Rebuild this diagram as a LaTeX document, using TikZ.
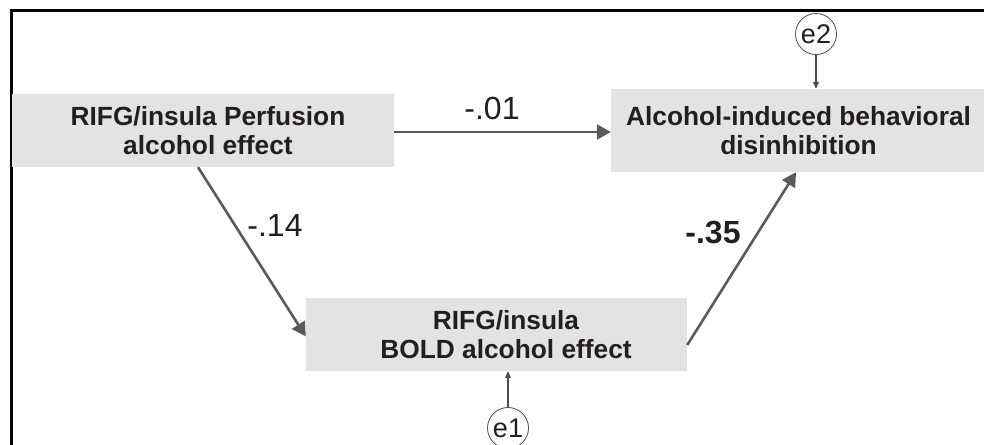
\documentclass[tikz,border=0pt]{standalone}
\usepackage{fontspec}
\setmainfont{Liberation Sans}
\usetikzlibrary{arrows.meta}
\definecolor{boxgray}{HTML}{E3E3E3}
\definecolor{arrowgray}{HTML}{5A5A5A}
\definecolor{txt}{HTML}{231F20}
\begin{document}
\begin{tikzpicture}[x=1pt,y=-1pt,
  varbox/.style={fill=boxgray,draw=none,inner sep=0pt,align=center,text=txt,
    font=\fontsize{26.3}{28.5}\selectfont\bfseries},
  path/.style={draw=arrowgray,line width=2.6pt,-{Triangle[length=14pt,width=15pt]}},
  errc/.style={circle,draw=txt!80,line width=0.8pt,minimum size=41pt,inner sep=0pt,
    text=txt,font=\fontsize{27}{27}\selectfont},
  errarrow/.style={draw=txt!80,line width=1.1pt,-{Triangle[length=7pt,width=6pt]}},
  coef/.style={text=txt,font=\fontsize{32}{32}\selectfont},
  coefb/.style={text=txt,font=\fontsize{32}{32}\selectfont\bfseries}]
\useasboundingbox (0,0) rectangle (984,444);
\clip (0,0) rectangle (984,444);
\draw[line width=3pt,black] (11,470) -- (11,11) -- (1000,11);
\node[varbox,minimum width=382pt,minimum height=73pt] (A) at (203,130.5) {\hspace*{10pt}RIFG/insula Perfusion\\\hspace*{10pt}alcohol effect};
\node[varbox,minimum width=375pt,minimum height=83pt] (B) at (798.5,130.5) {Alcohol-induced behavioral\\disinhibition};
\node[varbox,minimum width=381pt,minimum height=73pt] (C) at (496.5,334.5) {\hspace*{19pt}RIFG/insula\\\hspace*{19pt}BOLD alcohol effect};
\node[errc] (e2) at (816,34) {e2};
\node[errc] (e1) at (508,428) {e1};
\draw[path] ([yshift=-1.5pt]A.east) -- ([yshift=-1.5pt]B.west);
\draw[path] ([xshift=-5pt]A.south) -- ([yshift=-2pt]C.west);
\draw[path] ([yshift=-10.5pt]C.east) -- ([xshift=-2.5pt]B.south);
\draw[errarrow] (e2.south) -- (e2 |- B.north);
\draw[errarrow] (e1.north) -- (e1 |- C.south);
\node[coef] (l1) at (492,108) {-.01};
\node[coef] (l2) at (275,225) {-.14};
\node[coefb] (l3) at (713,233) {-.35};
\end{tikzpicture}
\end{document}
